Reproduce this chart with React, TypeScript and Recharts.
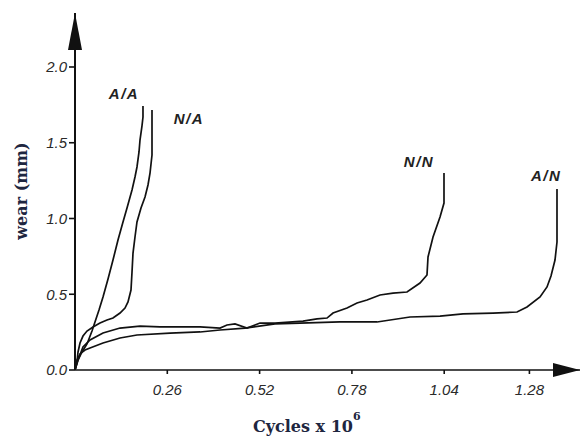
import React from 'react';
import { LineChart, Line, XAxis, YAxis, ReferenceDot } from 'recharts';

// Axis ticks
const xTicks = [0.26, 0.52, 0.78, 1.04, 1.28];
const yTicks = [0, 0.5, 1.0, 1.5, 2.0];
const xMax = 1.4225;
const yMax = 2.3564;

// A/A
const aaCycles = [0, 0.0085, 0.0197, 0.0338, 0.0479, 0.0563, 0.0676, 0.0789, 0.093, 0.107, 0.1211, 0.1352, 0.1465, 0.1606, 0.169, 0.1746, 0.1803, 0.1831, 0.1887, 0.1915, 0.1915];
const aaWear = [0, 0.066, 0.119, 0.172, 0.257, 0.317, 0.396, 0.482, 0.601, 0.726, 0.858, 0.977, 1.069, 1.188, 1.274, 1.34, 1.439, 1.518, 1.611, 1.67, 1.743];

// N/A
const naCycles = [0, 0.0056, 0.0085, 0.0141, 0.0225, 0.0338, 0.0507, 0.0704, 0.0901, 0.107, 0.1268, 0.1408, 0.1493, 0.1577, 0.1606, 0.1634, 0.169, 0.1746, 0.1859, 0.1972, 0.2056, 0.2113, 0.2169, 0.2169, 0.2169];
const naWear = [0, 0.053, 0.119, 0.178, 0.224, 0.257, 0.284, 0.31, 0.33, 0.343, 0.376, 0.409, 0.449, 0.528, 0.647, 0.772, 0.878, 0.977, 1.069, 1.142, 1.221, 1.3, 1.419, 1.518, 1.716];

// N/N
const nnCycles = [0, 0.0085, 0.0225, 0.0423, 0.0789, 0.1268, 0.1831, 0.2394, 0.3521, 0.4085, 0.4282, 0.4507, 0.4845, 0.5211, 0.5634, 0.6423, 0.6817, 0.7099, 0.7268, 0.7662, 0.7944, 0.8225, 0.8592, 0.8958, 0.9352, 0.9718, 0.9915, 0.9944, 1.0085, 1.0282, 1.0394, 1.0394];
const nnWear = [0, 0.066, 0.152, 0.198, 0.244, 0.277, 0.29, 0.284, 0.284, 0.277, 0.297, 0.304, 0.277, 0.31, 0.31, 0.323, 0.337, 0.343, 0.376, 0.409, 0.442, 0.462, 0.495, 0.508, 0.515, 0.574, 0.627, 0.746, 0.878, 1.01, 1.102, 1.3];

// A/N
const anCycles = [0, 0.0056, 0.0141, 0.0282, 0.0423, 0.0789, 0.1268, 0.1746, 0.2676, 0.3521, 0.4085, 0.4789, 0.5634, 0.6338, 0.7465, 0.8507, 0.9437, 1.0282, 1.093, 1.1775, 1.2451, 1.2732, 1.3099, 1.3296, 1.3408, 1.3521, 1.3577, 1.3577];
const anWear = [0, 0.066, 0.106, 0.132, 0.145, 0.178, 0.211, 0.231, 0.244, 0.251, 0.264, 0.277, 0.304, 0.31, 0.317, 0.317, 0.35, 0.356, 0.37, 0.376, 0.383, 0.416, 0.482, 0.548, 0.62, 0.726, 0.845, 1.195];

// Curve labels (name, cycles, wear where the label sits)
const labelNames = ['A/A', 'N/A', 'N/N', 'A/N'];
const labelCycles = [0.138, 0.321, 0.969, 1.327];
const labelWear = [1.828, 1.663, 1.373, 1.281];

const zip = (xs: number[], ys: number[]) => xs.map((x, i) => ({ x, y: ys[i] }));

const series = [
  { name: 'A/A', data: zip(aaCycles, aaWear) },
  { name: 'N/A', data: zip(naCycles, naWear) },
  { name: 'N/N', data: zip(nnCycles, nnWear) },
  { name: 'A/N', data: zip(anCycles, anWear) },
];

const tickStyle = { fontFamily: '"Liberation Sans", Arial, sans-serif', fontStyle: 'italic', fontSize: 15, fill: '#2a2a2a' };

const ArrowRight = (p: any) => (
  <polygon points={`${p.cx},${p.cy} ${p.cx - 27},${p.cy - 7} ${p.cx - 27},${p.cy + 7}`} fill="#111" />
);
const ArrowUp = (p: any) => (
  <polygon points={`${p.cx},${p.cy} ${p.cx - 7},${p.cy + 37} ${p.cx + 7},${p.cy + 37}`} fill="#111" />
);

export default function App() {
  return (
    <div style={{ position: 'absolute', left: 0, top: 0, width: 581, height: 439, background: '#fff' }}>
      <LineChart width={581} height={439} margin={{ top: 13, right: 1, bottom: 0, left: 0 }}>
        <XAxis
          type="number"
          dataKey="x"
          domain={[0, xMax]}
          allowDataOverflow
          ticks={xTicks}
          interval={0}
          tickFormatter={(v: number) => v.toFixed(2)}
          height={69}
          tickSize={4}
          tickMargin={10}
          tick={tickStyle}
          axisLine={{ stroke: '#111', strokeWidth: 1.6 }}
          tickLine={{ stroke: '#111', strokeWidth: 1.6 }}
        />
        <YAxis
          type="number"
          dataKey="y"
          domain={[0, yMax]}
          allowDataOverflow
          ticks={yTicks}
          interval={0}
          tickFormatter={(v: number) => v.toFixed(1)}
          width={75}
          tickSize={6}
          tickMargin={2}
          tick={tickStyle}
          axisLine={{ stroke: '#111', strokeWidth: 2 }}
          tickLine={{ stroke: '#111', strokeWidth: 1.6 }}
        />
        {series.map((s) => (
          <Line
            key={s.name}
            data={s.data}
            dataKey="y"
            type="linear"
            stroke="#111"
            strokeWidth={1.7}
            dot={false}
            isAnimationActive={false}
          />
        ))}
        <ReferenceDot x={xMax} y={0} ifOverflow="visible" shape={ArrowRight} />
        <ReferenceDot x={0} y={yMax} ifOverflow="visible" shape={ArrowUp} />
        {labelNames.map((n, i) => (
          <ReferenceDot
            key={n}
            x={labelCycles[i]}
            y={labelWear[i]}
            ifOverflow="visible"
            shape={(p: any) => (
              <text
                x={p.cx}
                y={p.cy}
                textAnchor="middle"
                dominantBaseline="central"
                style={{ fontFamily: '"Liberation Sans", Arial, sans-serif', fontStyle: 'italic', fontWeight: 700, fontSize: 15, letterSpacing: 1.5, fill: '#222' }}
              >
                {n}
              </text>
            )}
          />
        ))}
      </LineChart>
      <svg width={581} height={439} style={{ position: 'absolute', left: 0, top: 0, pointerEvents: 'none' }}>
        <text
          transform="translate(21,191) rotate(-90)"
          textAnchor="middle"
          dominantBaseline="central"
          style={{ fontFamily: '"DejaVu Serif", "Liberation Serif", serif', fontWeight: 700, fontSize: 16, fill: '#1e2640' }}
        >
          wear (mm)
        </text>
        <text
          x={253}
          y={432}
          style={{ fontFamily: '"DejaVu Serif", "Liberation Serif", serif', fontWeight: 700, fontSize: 16, fill: '#1e2640' }}
        >
          Cycles x 10
          <tspan dy={-12} style={{ fontSize: 11 }}>6</tspan>
        </text>
      </svg>
    </div>
  );
}
